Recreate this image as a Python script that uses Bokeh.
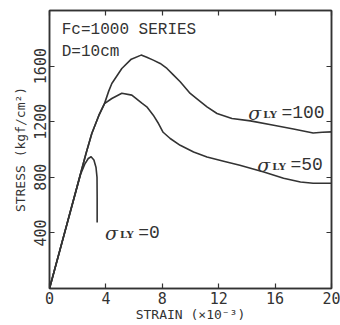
from bokeh.plotting import figure
from bokeh.models import LinearAxis, FixedTicker, Range1d, Label
from bokeh.embed import file_html
from bokeh.resources import INLINE

# ---- data (strain x10^-3, stress kgf/cm2) ----
strain_0 = [0, 1.0, 2.2, 2.5, 2.75, 2.95, 3.15, 3.3, 3.37, 3.38, 3.38]
stress_0 = [0, 372, 820, 895, 935, 948, 925, 870, 800, 650, 475]

strain_50 = [0, 1.0, 2.0, 2.6, 3.0, 3.5, 3.9, 4.42, 5.13, 5.84, 6.55, 6.9, 7.36, 7.73,
             8.06, 8.56, 9.27, 10.22, 11.17, 12.35, 13.5, 15.2, 16.6, 17.8, 18.7, 20.0]
stress_50 = [0, 375, 750, 975, 1115, 1245, 1330, 1367, 1405, 1391, 1333, 1307, 1247, 1187,
             1124, 1079, 1030, 982, 946, 915, 886, 838, 793, 766, 757, 757]

strain_100 = [0, 1.0, 2.0, 2.6, 3.0, 3.5, 3.9, 4.2, 4.42, 5.13, 5.8, 6.5, 6.9, 7.36, 7.85,
              8.33, 8.8, 9.27, 9.98, 10.57, 11.17, 11.88, 12.94, 14.25, 15.9, 17.3, 18.7,
              19.34, 20.0]
stress_100 = [0, 375, 750, 975, 1115, 1245, 1330, 1420, 1475, 1583, 1650, 1679, 1663, 1643, 1619,
              1583, 1535, 1487, 1403, 1355, 1307, 1259, 1223, 1206, 1175, 1148, 1119,
              1124, 1127]

x_ticks = [0, 4, 8, 12, 16, 20]
y_ticks = [400, 800, 1200, 1600]

INK = "#333333"
TICK_FONT = "DejaVu Sans Mono"
MONO = "Liberation Mono"

p = figure(width=340, height=325, output_backend="svg", toolbar_location=None,
           x_range=Range1d(0, 20), y_range=Range1d(0, 2000),
           min_border_left=49, min_border_right=9, min_border_top=10, min_border_bottom=37,
           background_fill_color="white", border_fill_color="white")
p.grid.visible = False
p.outline_line_color = INK
p.outline_line_width = 1.5

for ax in (p.xaxis[0], p.yaxis[0]):
    ax.major_tick_in = 5
    ax.major_tick_out = 0
    ax.minor_tick_in = 0
    ax.minor_tick_out = 0
    ax.axis_line_color = INK
    ax.axis_line_width = 1.5
    ax.major_tick_line_color = INK
    ax.major_tick_line_width = 1.2
    ax.major_label_text_font = TICK_FONT
    ax.major_label_text_font_size = "15px"
    ax.major_label_text_color = INK
    ax.major_label_standoff = 3
    ax.axis_label_text_font = TICK_FONT
    ax.axis_label_text_font_size = "13px"
    ax.axis_label_text_font_style = "normal"
    ax.axis_label_text_color = INK

p.xaxis[0].ticker = FixedTicker(ticks=x_ticks)
p.yaxis[0].ticker = FixedTicker(ticks=y_ticks)
p.xaxis[0].axis_label = "STRAIN (×10⁻³)"
p.xaxis[0].axis_label_standoff = 0
p.yaxis[0].axis_label = "STRESS (kgf/cm²)"
p.yaxis[0].axis_label_standoff = 4
p.yaxis[0].major_label_orientation = "vertical"

top = LinearAxis(ticker=FixedTicker(ticks=x_ticks))
right = LinearAxis(ticker=FixedTicker(ticks=y_ticks))
for ax in (top, right):
    ax.major_tick_in = 5
    ax.major_tick_out = 0
    ax.minor_tick_in = 0
    ax.minor_tick_out = 0
    ax.major_label_text_font_size = "0px"
    ax.major_label_text_color = None
    ax.major_label_standoff = 0
    ax.axis_line_color = INK
    ax.axis_line_width = 1.5
    ax.major_tick_line_color = INK
    ax.major_tick_line_width = 1.2
p.add_layout(top, "above")
p.add_layout(right, "right")

for xs, ys in ((strain_0, stress_0), (strain_50, stress_50), (strain_100, stress_100)):
    p.line(xs, ys, line_color=INK, line_width=1.6, line_join="round")

def add_label(x, y, text, font, size, style="normal"):
    p.add_layout(Label(x=x, y=y, text=text, text_font=font, text_font_size=size,
                       text_font_style=style, text_color=INK, text_baseline="alphabetic",
                       text_align="left"))

add_label(0.87, 1858, "Fc=1000 SERIES", MONO, "16px")
add_label(0.87, 1700, "D=10cm", MONO, "16px")

def sigma_label(x, y, rest):
    add_label(x, y, "σ", "DejaVu Serif", "19px", "italic")
    add_label(x + 1.06, y - 8, "LY", "DejaVu Serif", "10px", "bold")
    add_label(x + 2.35, y, rest, MONO, "18px")

sigma_label(14.1, 1262, "=100")
sigma_label(14.74, 886, "=50")
sigma_label(3.94, 400, "=0")

open("out.html", "w").write(file_html(p, INLINE))
